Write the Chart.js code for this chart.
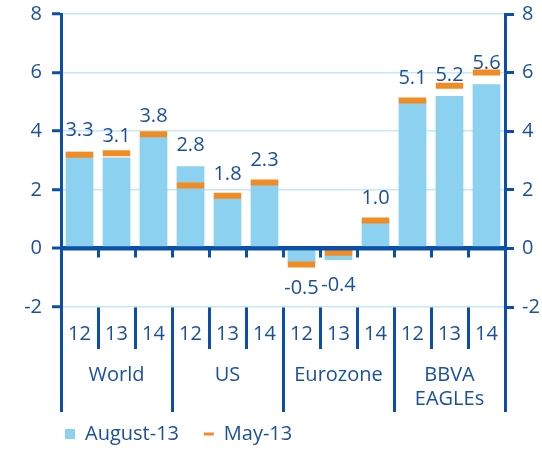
<!DOCTYPE html>
<html>
<head>
<meta charset="utf-8">
<script src="https://cdn.jsdelivr.net/npm/chart.js@4.4.0/dist/chart.umd.min.js"></script>
<style>
  html, body { margin: 0; padding: 0; background: #fff; }
  #wrap { width: 542px; height: 450px; }
</style>
</head>
<body>
<div id="wrap"><canvas id="growthChart" width="542" height="450"></canvas></div>
<script>
// GDP growth forecasts, August-13 vs May-13
const years = ['12', '13', '14', '12', '13', '14', '12', '13', '14', '12', '13', '14'];
const regions = ['World', 'US', 'Eurozone', ['BBVA', 'EAGLEs']];
const august13 = [3.3, 3.1, 3.8, 2.8, 1.8, 2.3, -0.5, -0.4, 1.0, 5.1, 5.2, 5.6];
const may13 = [3.2, 3.25, 3.9, 2.15, 1.8, 2.25, -0.55, -0.15, 0.95, 5.05, 5.55, 6.0];
const yTicks = [-2, 0, 2, 4, 6, 8];

const DARK = '#0b4fa8';
const TEXT = '#1a4f9e';
const BAR = '#8dd1f1';
const ORANGE = '#f28c22';
const GRID = '#c6e9f8';
const FONT = { family: "'Open Sans', sans-serif", size: 20 };

/**
 * Zero line over the bars, small ticks under it, and the value labels
 */
const overlayPlugin = {
    id: 'overlay',
    afterDatasetsDraw(chart) {
        const { ctx, scales: { x, y } } = chart;
        const zero = y.getPixelForValue(0);
        ctx.save();

        ctx.strokeStyle = DARK;
        ctx.lineWidth = 4;
        ctx.beginPath();
        ctx.moveTo(x.left, zero);
        ctx.lineTo(x.right, zero);
        ctx.stroke();

        ctx.lineWidth = 3;
        ctx.beginPath();
        for (let i = 1; i < years.length; i++) {
            const px = Math.round(x.getPixelForValue(i - 0.5)) + 0.5;
            ctx.moveTo(px, zero);
            ctx.lineTo(px, zero + 9);
        }
        ctx.stroke();

        ctx.fillStyle = TEXT;
        ctx.font = "20px 'Open Sans', sans-serif";
        ctx.textAlign = 'center';
        ctx.textBaseline = 'middle';
        august13.forEach((v, i) => {
            const px = x.getPixelForValue(i);
            const py = y.getPixelForValue(v);
            ctx.fillText(v.toFixed(1), px, v >= 0 ? py - 21 : py + 25);
        });
        ctx.restore();
    }
};

const setYTicks = s => { s.ticks = yTicks.map(v => ({ value: v })); };
const fixWidth = w => s => { s.width = w; s.paddingTop = 0; s.paddingBottom = 0; };
const fixHeight = h => s => { s.height = h; s.paddingLeft = 0; s.paddingRight = 0; };

new Chart(document.getElementById('growthChart'), {
    type: 'bar',
    data: {
        labels: years,
        datasets: [
            {
                label: 'August-13',
                data: august13,
                backgroundColor: BAR,
                borderWidth: 0,
                barPercentage: 0.75,
                categoryPercentage: 1,
                order: 2
            },
            {
                type: 'line',
                label: 'May-13',
                data: may13,
                showLine: false,
                borderColor: ORANGE,
                borderWidth: 3,
                pointStyle: 'line',
                pointRadius: 13.7,
                pointHoverRadius: 13.7,
                pointBorderWidth: 6,
                pointBorderColor: ORANGE,
                order: 1
            }
        ]
    },
    options: {
        responsive: false,
        animation: false,
        layout: {
            autoPadding: false,
            padding: { top: 14, bottom: 0, left: 0, right: 0 }
        },
        scales: {
            x: {
                afterFit: fixHeight(42),
                border: { display: false },
                grid: {
                    drawOnChartArea: false,
                    offset: true,
                    tickColor: DARK,
                    tickWidth: 3,
                    tickLength: 42
                },
                ticks: { color: TEXT, font: FONT, padding: -27, autoSkip: false, maxRotation: 0 }
            },
            x2: {
                type: 'category',
                labels: regions,
                position: 'bottom',
                offset: true,
                afterFit: fixHeight(71),
                border: { display: false },
                grid: {
                    drawOnChartArea: false,
                    offset: true,
                    tickColor: DARK,
                    tickWidth: 3,
                    tickLength: 63
                },
                ticks: {
                    color: TEXT,
                    font: { ...FONT, lineHeight: 1.22 },
                    padding: -49,
                    autoSkip: false,
                    maxRotation: 0
                }
            },
            y: {
                min: -2,
                max: 8,
                afterBuildTicks: setYTicks,
                afterFit: fixWidth(61),
                border: { color: DARK, width: 3 },
                grid: {
                    color: c => (c.tick && c.tick.value === 0 ? DARK : GRID),
                    lineWidth: c => (c.tick && c.tick.value === 0 ? 4 : 1.5),
                    tickColor: DARK,
                    tickWidth: 3,
                    tickLength: 9
                },
                ticks: { color: TEXT, font: FONT, padding: 10 }
            },
            y2: {
                position: 'right',
                min: -2,
                max: 8,
                afterBuildTicks: setYTicks,
                afterFit: fixWidth(37),
                border: { color: DARK, width: 3 },
                grid: {
                    drawOnChartArea: false,
                    tickColor: DARK,
                    tickWidth: 3,
                    tickLength: 9
                },
                ticks: { color: TEXT, font: FONT, padding: 8 }
            }
        },
        plugins: {
            tooltip: { enabled: false },
            legend: {
                position: 'bottom',
                align: 'start',
                fullSize: false,
                maxHeight: 30,
                labels: {
                    color: TEXT,
                    font: FONT,
                    boxWidth: 10,
                    boxHeight: 10,
                    usePointStyle: true,
                    pointStyleWidth: 10,
                    padding: 4,
                    sort: (a, b) => a.datasetIndex - b.datasetIndex,
                    generateLabels: chart => {
                        const items = Chart.defaults.plugins.legend.labels.generateLabels(chart);
                        return items.map(item => {
                            if (item.datasetIndex === 0) {
                                return { ...item, text: item.text + '    ', pointStyle: 'rect', fillStyle: BAR, lineWidth: 0 };
                            }
                            return { ...item, pointStyle: 'line', strokeStyle: ORANGE, lineWidth: 3 };
                        });
                    }
                }
            }
        }
    },
    plugins: [overlayPlugin]
});
</script>
</body>
</html>
